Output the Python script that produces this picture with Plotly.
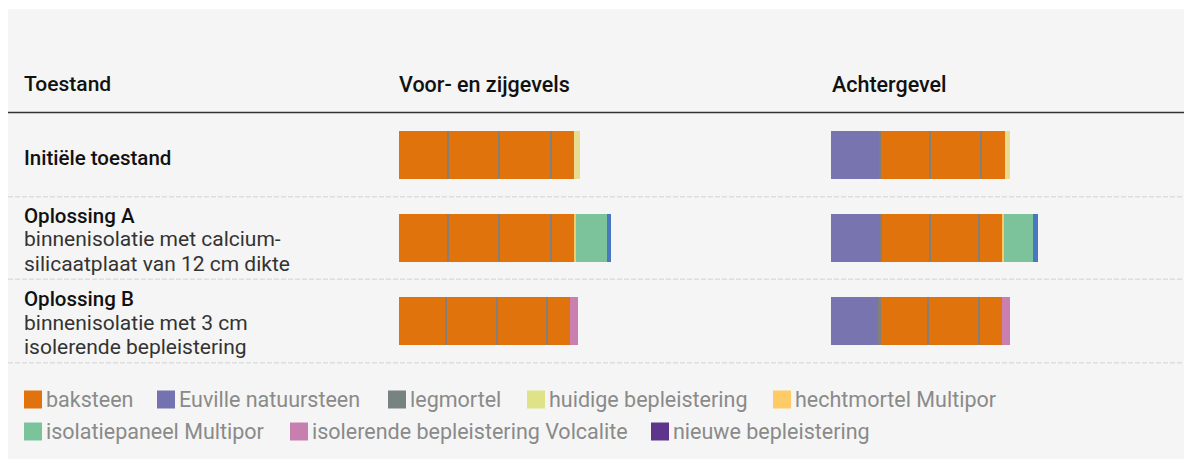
import plotly.graph_objects as go

# ---------------- data ----------------
rows = ["Initiële toestand", "Oplossing A", "Oplossing B"]
row_sublines = [[], ["binnenisolatie met calcium-", "silicaatplaat van 12 cm dikte"],
                ["binnenisolatie met 3 cm", "isolerende bepleistering"]]
facades = ["Voor- en zijgevels", "Achtergevel"]

materials = ["baksteen", "Euville natuursteen", "legmortel", "huidige bepleistering",
             "hechtmortel Multipor", "isolatiepaneel Multipor",
             "isolerende bepleistering Volcalite", "nieuwe bepleistering"]
legend_colors = ["#e0730c", "#7472b0", "#778381", "#dde386", "#fecb66", "#7bc49b", "#c77fb0", "#5d358b"]
bar_colors = ["#e0730c", "#7774b0", "#857f7a", "#e8dc90", "#fdc967", "#7cc29b", "#c97fb0", "#4a78c0"]

# layer sequences (outside -> inside) and thickness in cm
voor_init_lagen = ["baksteen", "legmortel", "baksteen", "legmortel", "baksteen", "legmortel", "baksteen",
                   "huidige bepleistering"]
voor_init_dikte = [18.8, 0.8, 19.2, 0.8, 19.6, 0.8, 8.7, 2.2]
voor_a_lagen = ["baksteen", "legmortel", "baksteen", "legmortel", "baksteen", "legmortel", "baksteen",
                "hechtmortel Multipor", "isolatiepaneel Multipor", "nieuwe bepleistering"]
voor_a_dikte = [18.8, 0.8, 19.2, 0.8, 19.6, 0.8, 8.7, 0.7, 12.0, 1.6]
voor_b_lagen = ["baksteen", "legmortel", "baksteen", "legmortel", "baksteen", "legmortel", "baksteen",
                "isolerende bepleistering Volcalite"]
voor_b_dikte = [17.9, 0.9, 19.2, 0.8, 18.7, 0.8, 8.7, 3.0]

achter_init_lagen = ["Euville natuursteen", "legmortel", "baksteen", "legmortel", "baksteen", "legmortel",
                     "baksteen", "huidige bepleistering"]
achter_init_dikte = [18.8, 0.8, 18.8, 0.8, 19.2, 0.8, 8.9, 2.0]
achter_a_lagen = ["Euville natuursteen", "legmortel", "baksteen", "legmortel", "baksteen", "legmortel",
                  "baksteen", "hechtmortel Multipor", "isolatiepaneel Multipor", "nieuwe bepleistering"]
achter_a_dikte = [19.2, 0.8, 18.4, 0.8, 18.4, 0.9, 8.5, 0.8, 11.5, 1.8]
achter_b_lagen = ["Euville natuursteen", "legmortel", "baksteen", "legmortel", "baksteen", "legmortel",
                  "baksteen", "isolerende bepleistering Volcalite"]
achter_b_dikte = [18.8, 0.7, 18.2, 0.8, 19.1, 0.8, 8.7, 3.1]

walls = {
    "x": [(voor_init_lagen, voor_init_dikte), (voor_a_lagen, voor_a_dikte), (voor_b_lagen, voor_b_dikte)],
    "x2": [(achter_init_lagen, achter_init_dikte), (achter_a_lagen, achter_a_dikte),
           (achter_b_lagen, achter_b_dikte)],
}

# ---------------- layout helpers ----------------
W, H = 1184, 459
def px(x):
    return x / W
def py(y):
    return 1 - y / H

PX_PER_CM = 2.55
col_left = {"x": 399, "x2": 831}
col_w = 240
row_pitch = 83.0
row0_center = 155.0
bar_h = 48.0

fig = go.Figure()

for axis, wall_rows in walls.items():
    for m_i, mat in enumerate(materials):
        xs, bases, ys = [], [], []
        for r_i, (lagen, dikte) in enumerate(wall_rows):
            start = 0.0
            for lg, d in zip(lagen, dikte):
                if lg == mat:
                    xs.append(d)
                    bases.append(start)
                    ys.append(-r_i)
                start += d
        if xs:
            fig.add_trace(go.Bar(
                x=xs, base=bases, y=ys, orientation="h", width=bar_h / row_pitch,
                marker=dict(color=bar_colors[m_i], line=dict(width=0)),
                xaxis=axis, yaxis="y", name=mat, showlegend=False, hoverinfo="name"))

y_top = row0_center / row_pitch
y_bot = -(H - row0_center) / row_pitch

fig.update_layout(
    width=W, height=H,
    margin=dict(l=0, r=0, t=0, b=0, pad=0),
    paper_bgcolor="white", plot_bgcolor="rgba(0,0,0,0)",
    barmode="overlay", bargap=0,
    showlegend=False,
    font=dict(family="Roboto", size=18, color="#222"),
    xaxis=dict(domain=[px(col_left["x"]), px(col_left["x"] + col_w)],
               range=[0, col_w / PX_PER_CM], visible=False, fixedrange=True),
    xaxis2=dict(domain=[px(col_left["x2"]), px(col_left["x2"] + col_w)],
                range=[0, col_w / PX_PER_CM], visible=False, fixedrange=True),
    yaxis=dict(domain=[0, 1], range=[y_bot, y_top], visible=False, fixedrange=True),
)

shapes = []
# background panel
shapes.append(dict(type="rect", xref="paper", yref="paper", x0=px(8), x1=1, y0=0, y1=py(9),
                   fillcolor="#f5f5f5", line=dict(width=0), layer="below"))
# header rule
shapes.append(dict(type="line", xref="paper", yref="paper", x0=px(8), x1=1, y0=py(112.5), y1=py(112.5),
                   line=dict(color="#333333", width=1.5), layer="below"))
# dashed separators
for yy in [196.7, 279.3, 362.7]:
    shapes.append(dict(type="line", xref="paper", yref="paper", x0=px(8), x1=1, y0=py(yy), y1=py(yy),
                       line=dict(color="#dddddd", width=1.5, dash="5px,2px"), layer="below"))

annotations = []
def text(x, y, s, size=18, color="#222", weight="normal"):
    annotations.append(dict(xref="paper", yref="paper", x=px(x), y=py(y), text=s, showarrow=False,
                            xanchor="left", yanchor="middle", align="left",
                            font=dict(family="Roboto", size=size, color=color, weight=weight)))

# headers
text(22, 84, "Toestand", size=21, color="#111", weight=500)
text(397, 84, facades[0], size=21.5, color="#111", weight=500)
text(830, 84, facades[1], size=21.5, color="#111", weight=500)

# row labels
row_title_y = [157.5, 215.5, 299]
for r_i, name in enumerate(rows):
    text(22, row_title_y[r_i], name, size=20.5, color="#111", weight=500)
    for l_i, sub in enumerate(row_sublines[r_i]):
        text(22, row_title_y[r_i] + 24 * (l_i + 1), sub, size=21, color="#333")

# custom legend
legend_pos = [(24, 399.5), (157, 399.5), (388, 399.5), (527, 399.5), (773, 399.5),
              (24, 431.5), (290, 431.5), (651, 431.5)]
for (lx, ly), lab, col in zip(legend_pos, materials, legend_colors):
    shapes.append(dict(type="rect", xref="paper", yref="paper", x0=px(lx), x1=px(lx + 18),
                       y0=py(ly + 9), y1=py(ly - 9), fillcolor=col, line=dict(width=0)))
    text(lx + 20, ly, lab, size=21.5, color="#8a8a8a")

fig.update_layout(shapes=shapes, annotations=annotations)

fig.write_html("out.html", config={"displayModeBar": False},
               post_script="document.body.style.margin='0';")
